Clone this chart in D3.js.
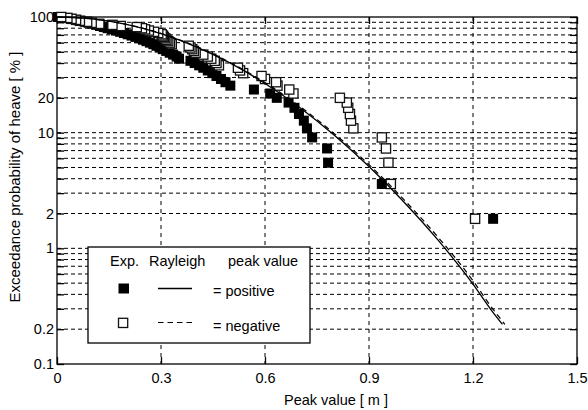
<!DOCTYPE html>
<html>
<head>
<meta charset="utf-8">
<script src="https://cdn.jsdelivr.net/npm/d3@7"></script>
<style>
  body { margin: 0; background: #fff; }
  svg { display: block; font-family: "Liberation Sans", Arial, sans-serif; }
</style>
</head>
<body>
<svg id="chart" width="588" height="410"></svg>
<script>
// Axis ticks
const xTickValues = [0, 0.3, 0.6, 0.9, 1.2, 1.5];
const yTickLabels = [0.1, 0.2, 1, 2, 10, 20, 100];

// Exceedance probability [%] of each ranked peak (shared by both series)
const exceedProb = [1.8, 3.6, 5.5, 7.3, 9.1, 10.9, 12.7, 14.5, 16.4, 18.2,
  20.0, 21.8, 23.6, 25.5, 27.3, 29.1, 30.9, 32.7, 34.5, 36.4,
  38.2, 40.0, 41.8, 43.6, 45.5, 47.3, 49.1, 50.9, 52.7, 54.5,
  56.4, 58.2, 60.0, 61.8, 63.6, 65.5, 67.3, 69.1, 70.9, 72.7,
  74.5, 76.4, 78.2, 80.0, 81.8, 83.6, 85.5, 87.3, 89.1, 90.9,
  92.7, 94.5, 96.4, 98.2, 100];

// Measured peak values [m]: positive (crest) peaks
const posPeak = [1.258, 0.937, 0.782, 0.779, 0.736, 0.721, 0.712, 0.698, 0.685, 0.668,
  0.634, 0.615, 0.568, 0.500, 0.486, 0.473, 0.460, 0.448, 0.435, 0.422,
  0.410, 0.397, 0.385, 0.352, 0.345, 0.335, 0.325, 0.315, 0.305, 0.296,
  0.287, 0.278, 0.268, 0.258, 0.248, 0.237, 0.226, 0.215, 0.204, 0.193,
  0.182, 0.170, 0.158, 0.146, 0.135, 0.124, 0.113, 0.102, 0.091, 0.080,
  0.068, 0.055, 0.040, 0.022, 0.002];

// Measured peak values [m]: negative (trough) peaks
const negPeak = [1.206, 0.963, 0.956, 0.949, 0.937, 0.855, 0.848, 0.845, 0.840, 0.836,
  0.816, 0.682, 0.670, 0.636, 0.632, 0.600, 0.590, 0.537, 0.528, 0.522,
  0.467, 0.460, 0.455, 0.445, 0.435, 0.422, 0.400, 0.395, 0.390, 0.385,
  0.380, 0.331, 0.326, 0.321, 0.316, 0.312, 0.308, 0.305, 0.302, 0.292,
  0.280, 0.265, 0.254, 0.245, 0.230, 0.184, 0.160, 0.122, 0.100, 0.087,
  0.066, 0.055, 0.042, 0.030, 0.012];

// Rayleigh distribution curves
const rayPosX = [0, 0.1, 0.2, 0.3, 0.4, 0.5, 0.6, 0.7, 0.8, 0.9, 1.0, 1.1, 1.2, 1.25, 1.285];
const rayPosP = [100, 96.4, 86.3, 71.8, 55.5, 39.9, 26.6, 16.5, 9.5, 5.09, 2.53, 1.17, 0.49, 0.30, 0.22];
const rayNegX = [0, 0.1, 0.2, 0.3, 0.4, 0.5, 0.6, 0.7, 0.8, 0.9, 1.0, 1.1, 1.2, 1.25, 1.292];
const rayNegP = [100, 96.4, 86.5, 72.1, 55.9, 40.4, 27.1, 16.9, 9.8, 5.29, 2.65, 1.24, 0.525, 0.32, 0.22];

const svg = d3.select("#chart");
const X0 = 57, X1 = 577, Y0 = 364, Y1 = 17;

const x = d3.scaleLinear().domain([0, 1.5]).range([X0, X1]);
const y = d3.scaleLog().domain([0.1, 100]).range([Y0, Y1]);

const fontSize = 14.5;
const gridTicks = y.ticks().filter(v => v > 0.1 + 1e-9 && v < 100 - 1e-9);

// Grid lines
const grid = svg.append("g").attr("stroke", "#000").attr("stroke-width", 1).attr("fill", "none");
grid.selectAll("line.h").data(gridTicks).join("line")
  .attr("class", "h")
  .attr("x1", X0).attr("x2", X1)
  .attr("y1", d => y(d)).attr("y2", d => y(d))
  .attr("stroke-dasharray", "4,3");
grid.selectAll("line.v").data(xTickValues.slice(1, -1)).join("line")
  .attr("class", "v")
  .attr("x1", d => x(d)).attr("x2", d => x(d))
  .attr("y1", Y1).attr("y2", Y0)
  .attr("stroke-dasharray", "4,4");

// Axes with inward ticks
function labelFor(d) {
  const m = yTickLabels.find(v => Math.abs(v - d) / v < 1e-6);
  return m === undefined ? "" : String(m);
}
const yAxisL = svg.append("g").attr("transform", `translate(${X0},0)`)
  .call(d3.axisLeft(y).tickValues(y.ticks()).tickSizeInner(-7).tickSizeOuter(0).tickPadding(3).tickFormat(labelFor));
const yAxisR = svg.append("g").attr("transform", `translate(${X1},0)`)
  .call(d3.axisRight(y).tickValues(y.ticks()).tickSizeInner(-7).tickSizeOuter(0).tickFormat(""));
const xAxisB = svg.append("g").attr("transform", `translate(0,${Y0})`)
  .call(d3.axisBottom(x).tickValues(xTickValues).tickSizeInner(-7).tickSizeOuter(0).tickPadding(9).tickFormat(d => String(d)));
const xAxisT = svg.append("g").attr("transform", `translate(0,${Y1})`)
  .call(d3.axisTop(x).tickValues(xTickValues).tickSizeInner(-7).tickSizeOuter(0).tickFormat(""));

[yAxisL, yAxisR, xAxisB, xAxisT].forEach(g => {
  g.select(".domain").remove();
  g.selectAll(".tick line").attr("stroke", "#000").attr("stroke-width", 1.3);
  g.selectAll("text").attr("font-size", fontSize).attr("fill", "#000")
    .attr("font-family", '"Liberation Sans", Arial, sans-serif');
});

// Measured peaks: positive (filled) then negative (open)
const posData = posPeak.map((v, i) => [v, exceedProb[i]]);
const negData = negPeak.map((v, i) => [v, exceedProb[i]]);
const S = 10;
svg.append("g").selectAll("rect").data(posData).join("rect")
  .attr("x", d => x(d[0]) - S / 2).attr("y", d => y(d[1]) - S / 2)
  .attr("width", S).attr("height", S).attr("fill", "#000");
const So = 9.2;
svg.append("g").selectAll("rect").data(negData).join("rect")
  .attr("x", d => x(d[0]) - So / 2).attr("y", d => y(d[1]) - So / 2)
  .attr("width", So).attr("height", So)
  .attr("fill", "#fff").attr("stroke", "#111").attr("stroke-width", 1.3);

// Rayleigh curves
const line = d3.line().x(d => x(d[0])).y(d => y(d[1])).curve(d3.curveMonotoneX);
svg.append("path").datum(rayPosX.map((v, i) => [v, rayPosP[i]]))
  .attr("d", line).attr("fill", "none").attr("stroke", "#000").attr("stroke-width", 1.3);
svg.append("path").datum(rayNegX.map((v, i) => [v, rayNegP[i]]))
  .attr("d", line).attr("fill", "none").attr("stroke", "#000").attr("stroke-width", 1.2)
  .attr("stroke-dasharray", "5.5,4");

// Plot frame
svg.append("rect").attr("x", X0).attr("y", Y1).attr("width", X1 - X0).attr("height", Y0 - Y1)
  .attr("fill", "none").attr("stroke", "#000").attr("stroke-width", 1.3);

// Axis titles
svg.append("text").attr("x", 336).attr("y", 405).attr("text-anchor", "middle")
  .attr("font-size", fontSize).text("Peak value [ m ]");
svg.append("text").attr("transform", "translate(20,177) rotate(-90)").attr("text-anchor", "middle")
  .attr("font-size", 15).text("Exceedance probability of heave [ % ]");

// Legend
const lg = svg.append("g");
lg.append("rect").attr("x", 88).attr("y", 247).attr("width", 222).attr("height", 96)
  .attr("fill", "#fff").attr("stroke", "#000").attr("stroke-width", 1.3);
lg.append("text").attr("x", 110).attr("y", 266).attr("font-size", fontSize).text("Exp.");
lg.append("text").attr("x", 149).attr("y", 266).attr("font-size", fontSize).text("Rayleigh");
lg.append("text").attr("x", 228).attr("y", 266).attr("font-size", fontSize).text("peak value");
lg.append("rect").attr("x", 118.5).attr("y", 283.5).attr("width", 10.5).attr("height", 10).attr("fill", "#000");
lg.append("line").attr("x1", 158).attr("x2", 192).attr("y1", 288.5).attr("y2", 288.5)
  .attr("stroke", "#000").attr("stroke-width", 1.3);
lg.append("text").attr("x", 213).attr("y", 296).attr("font-size", fontSize).text("= positive");
lg.append("rect").attr("x", 118.5).attr("y", 318.3).attr("width", So).attr("height", So)
  .attr("fill", "#fff").attr("stroke", "#111").attr("stroke-width", 1.3);
lg.append("line").attr("x1", 158).attr("x2", 192).attr("y1", 322.5).attr("y2", 322.5)
  .attr("stroke", "#000").attr("stroke-width", 1.2).attr("stroke-dasharray", "5.5,4");
lg.append("text").attr("x", 213).attr("y", 330.5).attr("font-size", fontSize).text("= negative");
</script>
</body>
</html>
